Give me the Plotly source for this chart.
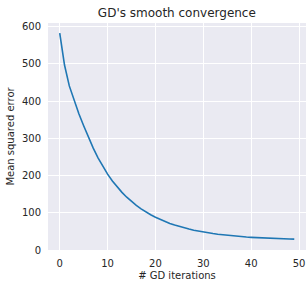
import plotly.graph_objects as go

iterations = list(range(50))
mse = [583.0, 497.0, 441.0, 401.0, 366.0, 334.0, 303.0, 273.7, 247.7, 224.5,
       204.0, 185.7, 169.4, 154.9, 141.9, 130.3, 119.9, 110.6, 102.1, 94.7,
       87.9, 81.8, 76.4, 71.5, 67.1, 63.0, 59.4, 56.2, 53.3, 50.6,
       48.3, 46.1, 44.2, 42.3, 40.8, 39.3, 38.0, 36.8, 35.8, 34.8,
       34.0, 33.2, 32.5, 31.9, 31.3, 30.8, 30.3, 29.9, 29.5, 29.1]

x_ticks = [0, 10, 20, 30, 40, 50]
y_ticks = [0, 100, 200, 300, 400, 500, 600]

title_text = "GD's smooth convergence"
x_label = "# GD iterations"
y_label = "Mean squared error"

text_color = "#262626"
font_family = "DejaVu Sans, Liberation Sans, sans-serif"

fig = go.Figure()
fig.add_trace(go.Scatter(
    x=iterations, y=mse, mode="lines",
    line=dict(color="#1f77b4", width=1.6),
    showlegend=False, hoverinfo="skip",
))

fig.update_layout(
    width=306, height=281,
    margin=dict(l=48, r=0, t=23, b=31),
    paper_bgcolor="white",
    plot_bgcolor="#EAEAF2",
    font=dict(family=font_family, size=10, color=text_color),
    title=dict(
        text=title_text, x=0.578, xanchor="center",
        y=1 - 13 / 281, yanchor="middle", yref="container",
        font=dict(size=12, color=text_color, family=font_family),
    ),
    xaxis=dict(
        range=[-2.45, 51.45], tickvals=x_ticks,
        showgrid=True, gridcolor="white", gridwidth=1,
        zeroline=False, showline=False, ticks="",
        ticklabelstandoff=6,
        title=dict(text=x_label, standoff=5, font=dict(size=10, color=text_color)),
        automargin=False, fixedrange=True,
    ),
    yaxis=dict(
        range=[0, 610], tickvals=y_ticks,
        showgrid=True, gridcolor="white", gridwidth=1,
        zeroline=False, showline=False, ticks="",
        ticklabelstandoff=6,
        title=dict(text=y_label, standoff=5, font=dict(size=10, color=text_color)),
        automargin=False, fixedrange=True,
    ),
)

fig.write_html(
    "out.html",
    config={"displayModeBar": False},
    post_script="document.body.style.margin='0';document.body.style.overflow='hidden';",
)
